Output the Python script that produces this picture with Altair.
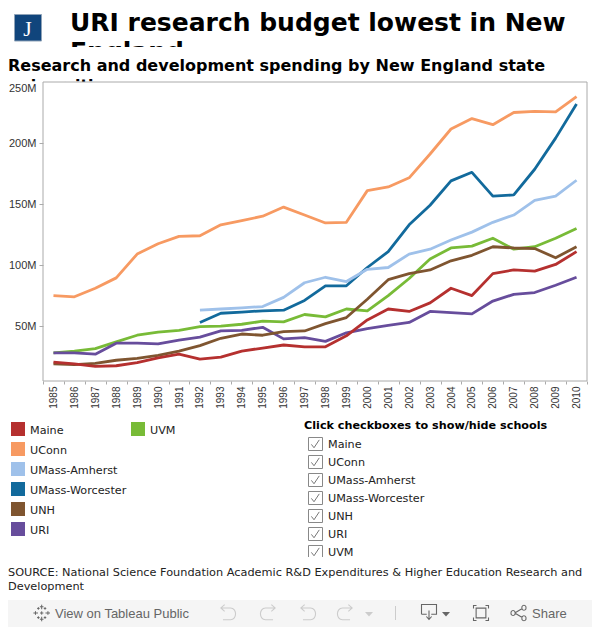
import altair as alt
import pandas as pd

years = list(range(1985, 2011))
y92 = list(range(1992, 2011))
maine = [20.5,19,17,17.5,20,24,27,23,24.5,29.5,32,34.5,33,33,42,55,64,62,69,81,75,93,96,95,100.5,111]
uconn = [75,74,81,89.5,109,117.5,123.5,124,133,136.5,140,147.5,141,134.5,135,161,164,171.5,191,211.5,220,215,225,226,225.5,238]
amherst = [63,64,65,66,73.5,85.5,90,86.5,96.5,98,109,113,120.5,127,135,141,153,156.5,169.5]
worcester = [53,60.5,61.5,62.5,63,71,83,83,98,111,133,149,169,176,156.5,157.5,178.5,204,232]
unh = [19,18.5,19.5,22,23.5,26,29.5,34,40,43.5,42.5,45.5,46,52,57,72,88,93,96,103.5,108,115,114,113.5,106,115]
uri = [28,28,27,36,36,35.5,38.5,41,46,46.5,49,39.5,40.5,37.5,44.5,48,50.5,53,62,61,60,70.5,76,77.5,83.5,90]
uvm = [28,29.5,31.5,37,42.5,45,46.5,49.5,50,51.5,54,53.5,59.5,57.5,64,62.5,75,89,105,114,115.5,122,113,115,122,130]

schools = ["Maine", "UConn", "UMass-Amherst", "UMass-Worcester", "UNH", "URI", "UVM"]
colors = ["#b5302f", "#f79a62", "#9fc1ea", "#126a9c", "#7f5530", "#674d9c", "#78bb37"]
series = {"Maine": (years, maine), "UConn": (years, uconn), "UMass-Amherst": (y92, amherst),
          "UMass-Worcester": (y92, worcester), "UNH": (years, unh), "URI": (years, uri), "UVM": (years, uvm)}

rows = []
for s in reversed(schools):
    ys, vs = series[s]
    for a, b in zip(ys, vs):
        rows.append({"year": str(a), "value": b * 1e6, "school": s})
df = pd.DataFrame(rows)

OX, OY = 43, 82
W, H = 544, 299
SANS = "DejaVu Sans"
dummy = pd.DataFrame({"a": [0]})


def text(s, x, y, size=11.2, weight="normal", color="#000000", font=SANS, align="left"):
    return alt.Chart(dummy).mark_text(font=font, fontSize=size, fontWeight=weight, color=color,
                                       align=align, baseline="alphabetic").encode(
        x=alt.value(x - OX), y=alt.value(y - OY), text=alt.value(s))


def box(x0, y0, x1, y1, fill="#ffffff", stroke=None, sw=1, opacity=1):
    kw = dict(fill=fill, fillOpacity=opacity)
    if stroke:
        kw.update(stroke=stroke, strokeWidth=sw)
    return alt.Chart(dummy).mark_rect(**kw).encode(
        x=alt.value(x0 - OX), x2=alt.value(x1 - OX), y=alt.value(y0 - OY), y2=alt.value(y1 - OY))


def icon(path, x, y, size=225, color="#999999", sw=1.1, filled=False):
    if filled:
        m = alt.Chart(dummy).mark_point(shape=path, filled=True, fill=color, opacity=1, size=size)
    else:
        m = alt.Chart(dummy).mark_point(shape=path, filled=False, stroke=color, strokeWidth=sw, opacity=1, size=size)
    return m.encode(x=alt.value(x - OX), y=alt.value(y - OY))


layers = []
# clipped headline + mask
layers.append(text("URI research budget lowest in New", 70, 30.7, size=25, weight="bold"))
layers.append(text("England", 70, 60, size=25, weight="bold"))
layers.append(box(60, 47, 592, 72))
layers.append(text("Research and development spending by New England state", 8, 70.7, size=16, weight="bold"))
layers.append(text("universities", 8, 91, size=16, weight="bold"))
layers.append(box(0, 82, 592, 100))
# logo
layers.append(box(14.5, 14.5, 41.5, 41, fill="#10457c", stroke="#8fa3b8"))
layers.append(text("J", 27.5, 36, size=22, color="#ffffff", font="Liberation Serif", align="center"))

# plot
layers.append(box(OX, OY, OX + W, OY + H, fill="#ffffff", stroke="#aaaaaa"))
line = alt.Chart(df).mark_line(strokeWidth=2.8, strokeJoin="round").encode(
    x=alt.X("year:N", sort=None, title=None,
            scale=alt.Scale(type="band", paddingInner=0, paddingOuter=0),
            axis=alt.Axis(labelAngle=270, labelFont="Liberation Sans", labelFontSize=10, labelColor="#333333",
                          tickBand="extent", tickSize=3, tickColor="#aaaaaa", domain=False, grid=False, zindex=1,
                          labelPadding=2, labelBaseline="middle", labelAlign="right", labelOverlap=False)),
    y=alt.Y("value:Q", title=None, scale=alt.Scale(domain=[5e6, 250e6], nice=False, zero=False),
            axis=alt.Axis(values=[50e6, 100e6, 150e6, 200e6, 250e6], labelExpr="datum.value/1000000+'M'",
                          labelFont="Liberation Sans", labelFontSize=11, labelColor="#333333",
                          tickSize=4, tickColor="#aaaaaa", domain=False, grid=False, zindex=1,
                          tickOpacity={"condition": {"test": "datum.value >= 250000000", "value": 0}, "value": 1},
                          labelPadding=3, labelFlush=True)),
    color=alt.Color("school:N", scale=alt.Scale(domain=schools, range=colors), legend=None),
)
layers.append(line)

# legend
leg_y = [429, 449, 469, 489, 509, 529]
for s, c, yy in zip(schools[:6], colors[:6], leg_y):
    layers.append(box(11, yy - 7, 25, yy + 7, fill=c))
    layers.append(text(s, 30, yy + 5, color="#222222"))
layers.append(box(131, 422, 145, 436, fill=colors[6]))
layers.append(text("UVM", 150, 434, color="#222222"))

# checkbox list
layers.append(text("Click checkboxes to show/hide schools", 304, 428.5, size=11.2, weight="bold"))
check = "M-0.55,0.05 L-0.2,0.5 L0.5,-0.55"
for i, s in enumerate(schools):
    yy = 444 + i * 18
    layers.append(box(308.5, yy - 6.5, 322.5, yy + 6.5, fill="#ffffff", stroke="#888888"))
    layers.append(icon(check, 315.5, yy, size=225, color="#777777", sw=1))
    layers.append(text(s, 328, yy + 4.3, color="#222222"))
layers.append(box(300, 557, 592, 566))

# source
layers.append(text("SOURCE: National Science Foundation Academic R&D Expenditures & Higher Education Research and", 8, 576, size=11.3, color="#222222"))
layers.append(text("Development", 8, 590, size=11.3, color="#222222"))

# toolbar
layers.append(box(8, 600, 592, 627, fill="#f5f5f5"))
cross = ("M0,-1 L0,-0.45 M-0.22,-0.75 L0.22,-0.75 M0,1 L0,0.45 M-0.22,0.75 L0.22,0.75 "
         "M-1,0 L-0.45,0 M-0.75,-0.22 L-0.75,0.22 M1,0 L0.45,0 M0.75,-0.22 L0.75,0.22 "
         "M-0.2,0 L0.2,0 M0,-0.2 L0,0.2 "
         "M-0.55,-0.55 L-0.25,-0.55 M-0.4,-0.7 L-0.4,-0.4 M0.55,-0.55 L0.25,-0.55 M0.4,-0.7 L0.4,-0.4 "
         "M-0.55,0.55 L-0.25,0.55 M-0.4,0.7 L-0.4,0.4 M0.55,0.55 L0.25,0.55 M0.4,0.7 L0.4,0.4")
layers.append(icon(cross, 41.7, 613, size=276, color="#666666", sw=1))
layers.append(text("View on Tableau Public", 55, 618, size=13, color="#666666", font="Liberation Sans"))
undo = "M-0.4,-1 L-0.85,-0.6 L-0.4,-0.2 M-0.85,-0.6 L0.3,-0.6 C1.1,-0.6 1.1,0.8 0.3,0.8 L-0.6,0.8"
redo = "M0.4,-1 L0.85,-0.6 L0.4,-0.2 M0.85,-0.6 L-0.3,-0.6 C-1.1,-0.6 -1.1,0.8 -0.3,0.8 L0.6,0.8"
layers.append(icon(undo, 228, 613, size=282, color="#cccccc"))
layers.append(icon(redo, 268, 613, size=282, color="#cccccc"))
layers.append(icon(undo, 308, 613, size=282, color="#cccccc"))
layers.append(icon(redo, 345, 613, size=282, color="#cccccc"))
tri = "M-1,-0.5 L1,-0.5 L0,0.6 Z"
layers.append(icon(tri, 369, 614, size=64, color="#cccccc", filled=True))
layers.append(box(395, 606, 396, 620, fill="#cccccc"))
download = "M-1,0.3 L-1,-1 L1,-1 L1,0.3 L0.3,0.3 M-0.3,0.3 L-1,0.3 M0,-0.2 L0,1 M-0.35,0.6 L0,1 L0.35,0.6"
layers.append(icon(download, 429, 612, size=225, color="#666666"))
layers.append(icon(tri, 446, 614, size=64, color="#666666", filled=True))
frame = ("M-1,-0.6 L-1,-1 L-0.6,-1 M0.6,-1 L1,-1 L1,-0.6 M1,0.6 L1,1 L0.6,1 M-0.6,1 L-1,1 L-1,0.6 "
         "M-0.65,-0.65 L0.65,-0.65 L0.65,0.65 L-0.65,0.65 Z")
layers.append(icon(frame, 481, 613, size=225, color="#666666"))
share = ("M-0.5,0 L0.5,-0.6 M-0.5,0 L0.5,0.6 "
         "M-0.45,0 A0.28,0.28 0 1 1 -1,0 A0.28,0.28 0 1 1 -0.45,0 "
         "M1,-0.7 A0.28,0.28 0 1 1 0.45,-0.7 A0.28,0.28 0 1 1 1,-0.7 "
         "M1,0.7 A0.28,0.28 0 1 1 0.45,0.7 A0.28,0.28 0 1 1 1,0.7")
layers.append(icon(share, 518.5, 613, size=225, color="#666666"))
layers.append(text("Share", 532, 618, size=13, color="#666666", font="Liberation Sans"))

chart = alt.layer(*layers).properties(
    width=W, height=H,
    padding={"left": OX - 8, "top": OY - 8, "right": 592 - OX - W, "bottom": 627 - OY - H},
    autosize=alt.AutoSizeParams(type="none"),
).resolve_scale(x="shared", y="shared").configure_view(stroke=None)

chart.save("out.html", embed_options={"renderer": "svg", "actions": False})
